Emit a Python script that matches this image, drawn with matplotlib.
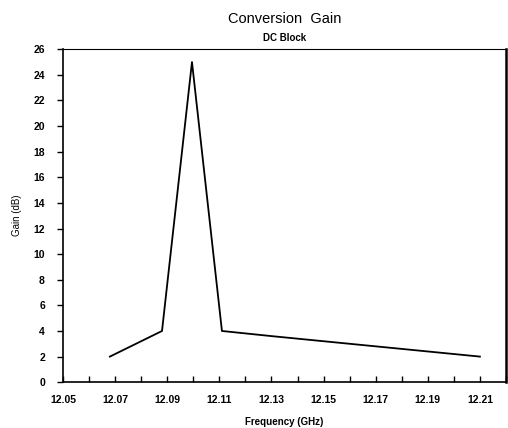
import matplotlib
matplotlib.use("Agg")
import matplotlib.pyplot as plt
import numpy as np

# frequency (GHz) and conversion gain (dB)
freq = [12.068, 12.088, 12.0995, 12.111, 12.13, 12.15, 12.17, 12.19, 12.21]
gain = [2.0, 4.0, 25.0, 4.0, 3.6, 3.2, 2.8, 2.4, 2.0]

xticks = [12.05, 12.07, 12.09, 12.11, 12.13, 12.15, 12.17, 12.19, 12.21]
yticks = list(range(0, 27, 2))

plt.rcParams['font.family'] = ['Liberation Sans', 'DejaVu Sans']

fig = plt.figure(figsize=(5.08, 4.28), dpi=100)
ax = fig.add_axes([0.124, 0.107, 0.872, 0.778])

ax.plot(freq, gain, color='black', linewidth=1.3)

ax.set_xlim(12.05, 12.22)
ax.set_ylim(0, 26)

ax.set_xticks(xticks)
ax.set_xticklabels(['%.2f' % t for t in xticks], fontsize=7.5, fontweight='bold')
ax.set_xticks(np.arange(12.06, 12.22, 0.02), minor=True)
ax.tick_params(axis='x', which='both', direction='in', length=4, width=1, pad=9)

ax.set_yticks(yticks)
ax.set_yticklabels([str(t) for t in yticks], fontsize=7.5, fontweight='bold')
ax.tick_params(axis='y', direction='out', length=4, width=1, pad=9)

for side in ['left', 'bottom']:
    ax.spines[side].set_linewidth(1.2)
ax.spines['right'].set_linewidth(1.8)
ax.spines['top'].set_linewidth(0.8)

ax.set_xlabel('Frequency (GHz)', fontsize=7, fontweight='bold', labelpad=9)
ax.set_ylabel('Gain (dB)', fontsize=7, labelpad=8)
ax.set_title('DC Block', fontsize=7, fontweight='bold', pad=6)
fig.text(0.56, 0.955, 'Conversion  Gain', ha='center', va='center', fontsize=10.5)

fig.savefig('out.png', dpi=100)
